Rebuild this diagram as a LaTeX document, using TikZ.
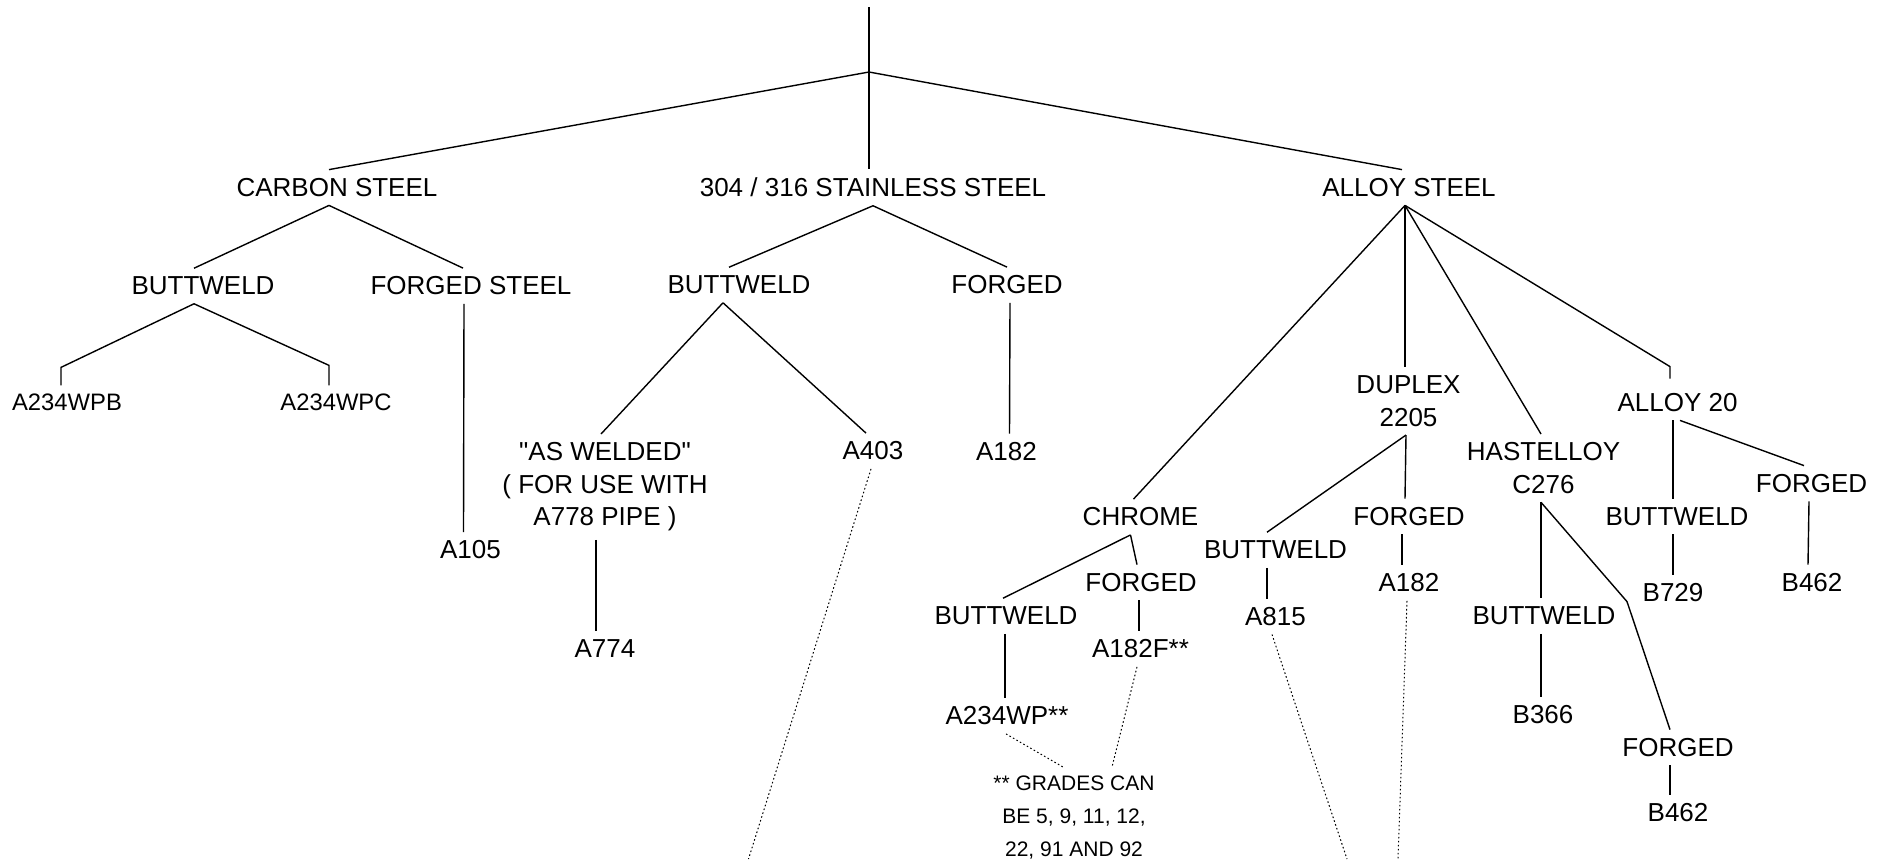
\documentclass[tikz,border=0pt]{standalone}
\usepackage{fontspec}
\setmainfont{Liberation Sans}[Ligatures=TeXOff]
\usepackage{tikz}

\begin{document}
\begin{tikzpicture}[x=0.5pt, y=-0.5pt, line width=0.7pt,
    lbl/.style={inner xsep=0pt, inner ysep=4pt, font=\fontsize{13}{16.25}\selectfont},
    sublbl/.style={lbl, font=\fontsize{11.9}{14}\selectfont},
    notelbl/.style={lbl, font=\fontsize{10.5}{16.5}\selectfont},
    dotline/.style={line width=0.5pt, dash pattern=on 0.8pt off 1.2pt}]
      \useasboundingbox (0,0) rectangle (1890,859);

      % Root
      \coordinate (top) at (869,7);
      \coordinate (j) at (869,72);

      % Materials
      \node[lbl] (cs) at (337,187.5) {CARBON STEEL};
      \node[lbl] (ss) at (873,187.5) {304 / 316 STAINLESS STEEL};
      \node[lbl] (as) at (1409,187.5) {ALLOY STEEL};

      % Carbon steel
      \node[lbl] (csb) at (203,286) {BUTTWELD};
      \node[lbl] (csf) at (471,286) {FORGED STEEL};
      \node[sublbl] (wpb) at (67,402.5) {A234WPB};
      \node[sublbl] (wpc) at (336,402.5) {A234WPC};
      \node[lbl] (a105) at (470.5,550) {A105};

      % Stainless steel
      \node[lbl] (ssb) at (739,285) {BUTTWELD};
      \node[lbl] (ssf) at (1007,285) {FORGED};
      \node[lbl, align=center, anchor=north] (asw) at (605,434) {"AS WELDED"\\( FOR USE WITH\\A778 PIPE )};
      \node[lbl] (a403) at (873,451) {A403};
      \node[lbl] (a182s) at (1006.5,451.5) {A182};
      \node[lbl] (a774) at (605,649) {A774};

      % Alloy steel
      \node[lbl] (chr) at (1140.5,517) {CHROME};
      \node[lbl, align=center, anchor=north] (dup) at (1408.5,367) {DUPLEX\\2205};
      \node[lbl, align=center, anchor=north] (hast) at (1543.5,434) {HASTELLOY\\C276};
      \node[lbl] (a20) at (1677.5,402.5) {ALLOY 20};

      % Chrome
      \node[lbl] (chb) at (1006,616) {BUTTWELD};
      \node[lbl] (chf) at (1141,582.5) {FORGED};
      \node[lbl] (wp) at (1007,716) {A234WP**};
      \node[lbl] (f182) at (1140.5,649) {A182F**};
      \node[notelbl, align=center, anchor=north] (note) at (1074,767) {** GRADES CAN\\BE 5, 9, 11, 12,\\22, 91 AND 92};

      % Duplex
      \node[lbl] (dub) at (1275.5,550) {BUTTWELD};
      \node[lbl] (duf) at (1409,516.5) {FORGED};
      \node[lbl] (a815) at (1275.5,616.5) {A815};
      \node[lbl] (a182d) at (1409,583) {A182};

      % Hastelloy
      \node[lbl] (hab) at (1544,616) {BUTTWELD};
      \node[lbl] (b366) at (1543,714.5) {B366};
      \node[lbl] (haf) at (1678,747.5) {FORGED};
      \node[lbl] (b462h) at (1678,813) {B462};

      % Alloy 20
      \node[lbl] (a2b) at (1677,516.5) {BUTTWELD};
      \node[lbl] (b729) at (1673,592.5) {B729};
      \node[lbl] (a2f) at (1811.5,483.5) {FORGED};
      \node[lbl] (b462a) at (1812,582.5) {B462};

      % Loose ends of the dotted lines
      \coordinate (e403) at (748.5,859);
      \coordinate (e815) at (1347,859);
      \coordinate (e182) at (1398,859);

      % Tree lines
      \draw (top) -- ([xshift=-2pt]ss.north);
      \draw (j) -- ([xshift=-4pt]cs.north);
      \draw (j) -- ([xshift=-3.5pt]as.north);

      \draw ([xshift=-4pt]cs.south) -- ([xshift=-4.5pt]csb.north);
      \draw ([xshift=-4pt]cs.south) -- ([xshift=-4pt]csf.north);
      \draw ([xshift=-4.5pt]csb.south) -- ([xshift=-3pt,yshift=9pt]wpb.north) -- ([xshift=-3pt]wpb.north);
      \draw ([xshift=-4.5pt]csb.south) -- ([xshift=-3.5pt,yshift=10pt]wpc.north) -- ([xshift=-3.5pt]wpc.north);
      \draw ([xshift=-3.5pt]csf.south) -- ([xshift=-3.5pt]a105.north);

      \draw (ss.south) -- ([xshift=-5pt]ssb.north);
      \draw (ss.south) -- (ssf.north);
      \draw ([xshift=-8pt]ssb.south) -- ([xshift=-2pt]asw.north);
      \draw ([xshift=-8pt]ssb.south) -- ([xshift=-3.5pt]a403.north);
      \draw ([xshift=1.5pt]ssf.south) -- ([xshift=1.5pt]a182s.north);
      \draw ([xshift=-4.5pt]asw.south) -- ([xshift=-4.5pt]a774.north);

      \draw ([xshift=-2pt]as.south) -- ([xshift=-3.5pt]chr.north);
      \draw ([xshift=-2pt]as.south) -- ([xshift=-1.75pt]dup.north);
      \draw ([xshift=-2pt]as.south) -- ([xshift=-1.25pt]hast.north);
      \draw ([xshift=-2pt]as.south) -- ([xshift=-3.75pt,yshift=9pt]a20.north) -- ([xshift=-3.75pt,yshift=3pt]a20.north);

      \draw ([xshift=-5pt]chr.south) -- ([xshift=-1.5pt]chb.north);
      \draw ([xshift=-5pt]chr.south) -- ([xshift=-2pt]chf.north);
      \draw ([xshift=-0.5pt]chb.south) -- ([xshift=-1pt]wp.north);
      \draw ([xshift=-1pt]chf.south) -- ([xshift=-0.75pt]f182.north);

      \draw ([xshift=-1.25pt]dup.south) -- ([xshift=-4.25pt]dub.north);
      \draw ([xshift=-1.25pt]dup.south) -- ([xshift=-2pt]duf.north);
      \draw ([xshift=-4.25pt]dub.south) -- ([xshift=-4.25pt]a815.north);
      \draw ([xshift=-3.5pt]duf.south) -- ([xshift=-3.5pt]a182d.north);

      \draw ([xshift=-1.25pt]hast.south) -- ([xshift=-1.5pt]hab.north);
      \draw ([xshift=-1.5pt]hab.south) -- ([xshift=-1pt]b366.north);
      \draw ([xshift=-1.25pt]hast.south) -- ([xshift=-25.5pt,yshift=64pt]haf.north) -- ([xshift=-4pt]haf.north);
      \draw ([xshift=-4pt]haf.south) -- ([xshift=-4pt]b462h.north);

      \draw ([xshift=-2.25pt]a20.south) -- ([xshift=-2pt]a2b.north);
      \draw ([xshift=1.25pt]a20.south) -- ([xshift=-3.75pt]a2f.north);
      \draw ([xshift=-2pt]a2b.south) -- (b729.north);
      \draw ([xshift=-1.25pt]a2f.south) -- ([xshift=-2pt]b462a.north);

      % Dotted references
      \draw[dotline] ([xshift=-1pt]a403.south) -- (e403);
      \draw[dotline] ([xshift=-0.5pt]wp.south) -- ([xshift=-5.5pt]note.north);
      \draw[dotline] ([xshift=-1.75pt]f182.south) -- ([xshift=19pt]note.north);
      \draw[dotline] ([xshift=-1.75pt]a815.south) -- (e815);
      \draw[dotline] ([xshift=-1pt]a182d.south) -- (e182);
    \end{tikzpicture}
\end{document}
